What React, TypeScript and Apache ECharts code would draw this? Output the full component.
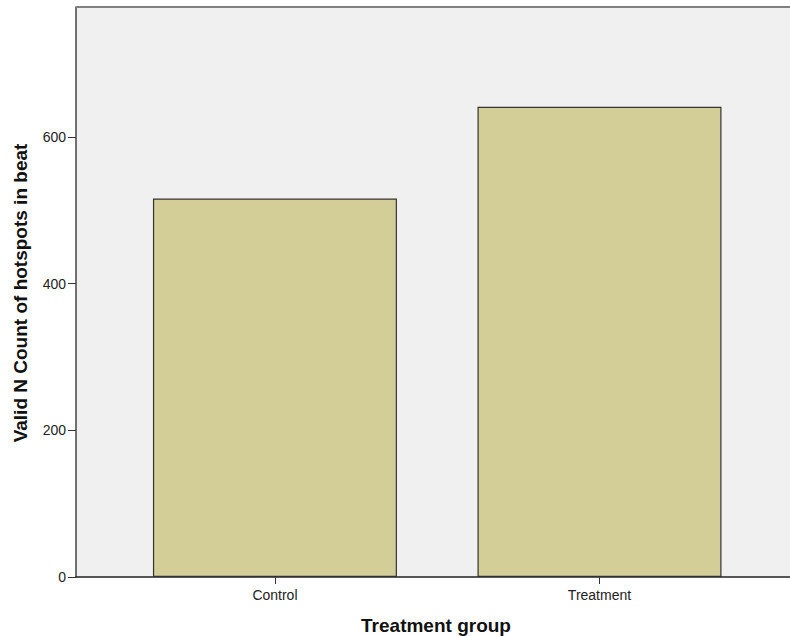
import React, { useEffect, useRef } from "react";
import * as echarts from "echarts";

const categories = ["Control", "Treatment"];
const counts = [516, 641];
const yTicks = [0, 200, 400, 600];
const yMax = 777;
const xTitle = "Treatment group";
const yTitle = "Valid N Count of hotspots in beat";

export default function App() {
  const ref = useRef<HTMLDivElement>(null);
  useEffect(() => {
    if (!ref.current) return;
    const chart = echarts.init(ref.current, null, { renderer: "svg" });
    const font = "Liberation Sans, Arial, sans-serif";
    chart.setOption({
      animation: false,
      grid: {
        left: 76,
        right: 0,
        top: 7,
        bottom: 59,
        show: true,
        backgroundColor: "#F0F0F0",
        borderWidth: 0,
      },
      xAxis: {
        type: "value",
        min: -0.613,
        max: 1.587,
        splitLine: { show: false },
        axisLine: { show: true, onZero: false, lineStyle: { color: "#222", width: 1.5 } },
        axisTick: {
          show: true,
          customValues: categories.map((_, i) => i),
          length: 7,
          lineStyle: { color: "#333" },
        },
        axisLabel: {
          customValues: categories.map((_, i) => i),
          formatter: (v: number) => categories[Math.round(v)] ?? "",
          color: "#222",
          fontFamily: font,
          fontSize: 14,
          margin: 11,
        },
      },
      yAxis: {
        type: "value",
        min: 0,
        max: yMax,
        splitLine: { show: false },
        axisLine: { show: true, onZero: false, lineStyle: { color: "#444", width: 1.5 } },
        axisTick: {
          show: true,
          customValues: yTicks,
          length: 8,
          lineStyle: { color: "#333" },
        },
        axisLabel: {
          customValues: yTicks,
          color: "#222",
          fontFamily: font,
          fontSize: 14,
          margin: 10,
        },
      },
      series: [
        {
          type: "bar",
          barWidth: 244,
          data: categories.map((_, i) => [i, counts[i]]),
          itemStyle: {
            color: "#D3CE98",
            borderColor: "#333",
            borderWidth: 1.2,
          },
        },
      ],
      graphic: [
        {
          type: "line",
          shape: { x1: 76, y1: 7, x2: 790, y2: 7 },
          style: { stroke: "#808080", lineWidth: 2 },
          z: 10,
        },
        {
          type: "text",
          x: 436,
          y: 625,
          style: {
            text: xTitle,
            align: "center",
            verticalAlign: "middle",
            font: `bold 19px ${font}`,
            fill: "#111",
          },
        },
        {
          type: "text",
          x: 20,
          y: 293,
          rotation: Math.PI / 2,
          style: {
            text: yTitle,
            align: "center",
            verticalAlign: "middle",
            font: `bold 19px ${font}`,
            fill: "#111",
          },
        },
      ],
    });
    return () => chart.dispose();
  }, []);
  return (
    <div
      ref={ref}
      style={{ position: "fixed", left: 0, top: 0, width: 790, height: 636, background: "#fff" }}
    />
  );
}
